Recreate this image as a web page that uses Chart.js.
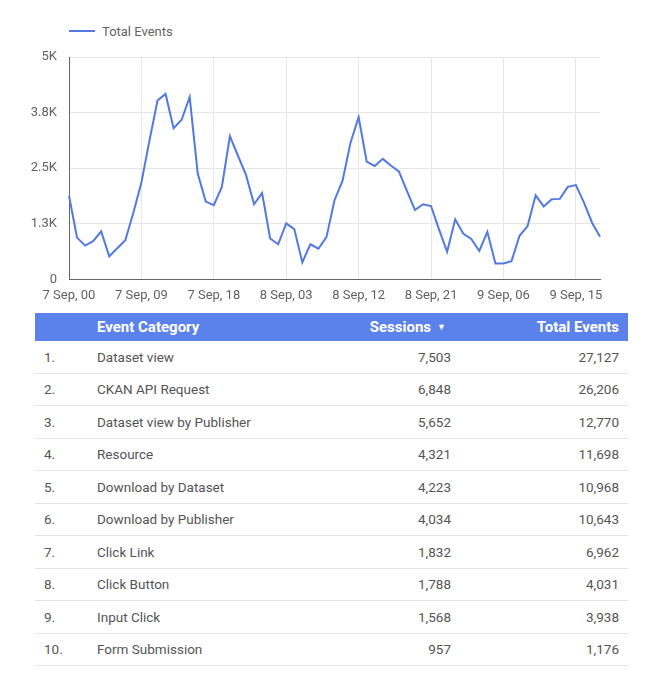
<!DOCTYPE html>
<html>
<head>
<meta charset="utf-8">
<script src="https://cdn.jsdelivr.net/npm/chart.js@4.4.0/dist/chart.umd.min.js"></script>
<style>
  html, body { margin: 0; padding: 0; background: #fff; font-family: Roboto, "Noto Sans", sans-serif; }
  #wrap { position: relative; width: 645px; height: 680px; }
  #chartBox { position: absolute; left: 0; top: 0; width: 645px; height: 313px; }
  #legend { position: absolute; left: 69px; top: 22px; height: 18px; display: flex; align-items: center; font-size: 13px; color: #5f6368; }
  #legend .sw { width: 26px; height: 2px; background: #5179e0; margin-right: 7px; }
  table { position: absolute; left: 35px; top: 313px; width: 593px; table-layout: fixed; border-collapse: collapse; font-size: 13.5px; color: #555; }
  thead th { background: #5b82ea; color: #fff; font-weight: bold; font-size: 15px; height: 28px; padding: 0; white-space: nowrap; }
  td { height: 31.5px; padding: 0; border-bottom: 1px solid #e4e4e4; white-space: nowrap; }
  .idx { text-align: left; padding-left: 9px; }
  .cat { text-align: left; }
  .num { text-align: right; }
  th.s { padding-right: 10px; }
  td.s { padding-right: 5px; }
  .t { padding-right: 9px; }
  .arrow { font-size: 9px; margin-left: 6px; position: relative; top: -2px; }
</style>
</head>
<body>
<div id="wrap">
  <div id="legend"><div class="sw"></div><span>Total Events</span></div>
  <div id="chartBox"><canvas id="c"></canvas></div>
  <table id="tbl">
    <colgroup><col style="width:62px"><col style="width:220px"><col style="width:139px"><col style="width:172px"></colgroup>
    <thead><tr><th class="idx"></th><th class="cat">Event Category</th><th class="num s">Sessions<span class="arrow">▼</span></th><th class="num t">Total Events</th></tr></thead>
    <tbody id="tb"></tbody>
  </table>
</div>
<script>
// Hourly labels: 7 Sep 00 .. 9 Sep 18
const hourLabels = [];
const days = ['7 Sep', '8 Sep', '9 Sep'];
for (let d = 0; d < 3; d++) {
  for (let h = 0; h < 24; h++) {
    hourLabels.push(days[d] + ', ' + String(h).padStart(2, '0'));
  }
}
const xLabels = hourLabels.slice(0, 67);

const totalEvents = [
  1880, 940, 760, 860, 1080, 520, 700, 880, 1500, 2180,
  3120, 4020, 4170, 3400, 3590, 4100, 2380, 1750, 1670, 2080,
  3220, 2780, 2350, 1690, 1940, 920, 790, 1260, 1130, 380,
  790, 690, 950, 1780, 2220, 3080, 3650, 2650, 2550, 2710,
  2560, 2430, 1990, 1560, 1690, 1650, 1120, 620, 1350, 1030,
  910, 640, 1070, 360, 360, 410, 980, 1200, 1890, 1640,
  1800, 1810, 2080, 2120, 1730, 1280, 960
];

const yTickValues = [0, 1250, 2500, 3750, 5000];
const yTickLabels = ['0', '1.3K', '2.5K', '3.8K', '5K'];

const categories = ['Dataset view', 'CKAN API Request', 'Dataset view by Publisher', 'Resource', 'Download by Dataset', 'Download by Publisher', 'Click Link', 'Click Button', 'Input Click', 'Form Submission'];
const sessions = [7503, 6848, 5652, 4321, 4223, 4034, 1832, 1788, 1568, 957];
const events = [27127, 26206, 12770, 11698, 10968, 10643, 6962, 4031, 3938, 1176];

const tb = document.getElementById('tb');
categories.forEach((c, i) => {
  const tr = document.createElement('tr');
  tr.innerHTML = '<td class="idx">' + (i + 1) + '.</td><td class="cat">' + c + '</td><td class="num s">' + sessions[i].toLocaleString('en-US') + '</td><td class="num t">' + events[i].toLocaleString('en-US') + '</td>';
  tb.appendChild(tr);
});

new Chart(document.getElementById('c'), {
  type: 'line',
  data: {
    labels: xLabels,
    datasets: [{
      label: 'Total Events',
      data: totalEvents,
      borderColor: '#5179e0',
      borderWidth: 2,
      pointRadius: 0,
      tension: 0,
      fill: false
    }]
  },
  options: {
    responsive: true,
    maintainAspectRatio: false,
    animation: false,
    layout: { padding: { top: 57, right: 45, left: 0, bottom: 0 } },
    plugins: { legend: { display: false }, tooltip: { enabled: false } },
    scales: {
      x: {
        type: 'category',
        offset: false,
        grid: { color: '#e6e6e6', drawTicks: false },
        border: { color: '#666', width: 1 },
        ticks: {
          autoSkip: false,
          maxRotation: 0,
          padding: 9,
          color: '#616161',
          font: { family: 'Roboto', size: 13 },
          callback: function (v, i) { return i % 9 === 0 ? xLabels[i] : null; }
        }
      },
      y: {
        min: 0,
        max: 5000,
        afterFit: function (s) { s.width = 69; },
        afterBuildTicks: function (s) { s.ticks = yTickValues.map(v => ({ value: v })); },
        grid: { color: '#e6e6e6', drawTicks: false },
        border: { color: '#666', width: 1 },
        ticks: {
          padding: 12,
          color: '#616161',
          font: { family: 'Roboto', size: 13 },
          callback: function (v) { const k = yTickValues.indexOf(v); return k >= 0 ? yTickLabels[k] : ''; }
        }
      }
    }
  }
});
</script>
</body>
</html>
